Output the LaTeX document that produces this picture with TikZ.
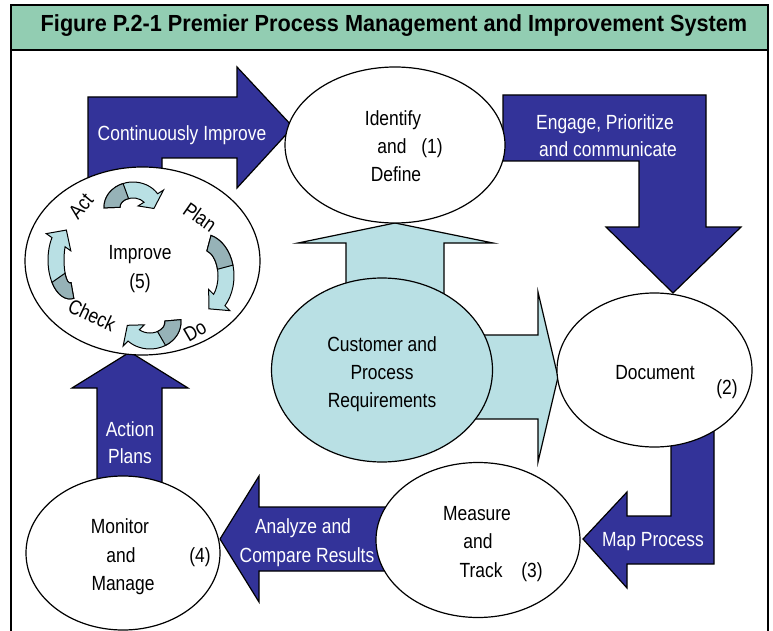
\documentclass[tikz,border=0pt]{standalone}
\usepackage{fontspec}
\setmainfont{Liberation Sans}[FakeStretch=0.85]
\newfontfamily\titlefont{Liberation Sans}[FakeStretch=0.93]
\usetikzlibrary{shapes.geometric}
\definecolor{navy}{RGB}{51,51,153}
\definecolor{lblue}{RGB}{185,224,228}
\definecolor{dteal}{RGB}{150,178,183}
\definecolor{tgreen}{RGB}{146,205,178}
\tikzset{
  border/.style={draw=black, line width=1.2pt, line join=miter},
  bluearrow/.style={border, fill=navy},
  lightarrow/.style={border, fill=lblue},
  bubble/.style={ellipse, border, fill=white, inner sep=0pt},
  lbl/.style={font=\fontsize{20.5}{24}\selectfont, anchor=base, inner sep=0pt},
  wlbl/.style={lbl, text=white},
  rlbl/.style={font=\fontsize{20.5}{24}\selectfont, anchor=center, inner sep=0pt},
}
% #1,#2 centre; #3,#4 radii; #5 start; #6 colour switch; #7 head base; #8 tip
\newcommand{\pdcaarrow}[8]{%
  \begin{scope}[shift={(#1,#2)}]
    \draw[border, line width=1pt, fill=lblue] (#5:#3+8 and #4+8)
      arc[start angle=#5, end angle=#7, x radius=#3+8, y radius=#4+8]
      -- (#7:#3+15 and #4+15) -- (#8:#3 and #4) -- (#7:#3-15 and #4-15)
      -- (#7:#3-8 and #4-8)
      arc[start angle=#7, end angle=#5, x radius=#3-8, y radius=#4-8] -- cycle;
    \draw[border, line width=1pt, fill=dteal] (#5:#3+8 and #4+8)
      arc[start angle=#5, end angle=#6, x radius=#3+8, y radius=#4+8]
      -- (#6:#3-8 and #4-8)
      arc[start angle=#6, end angle=#5, x radius=#3-8, y radius=#4-8] -- cycle;
  \end{scope}}
\begin{document}
\begin{tikzpicture}[yscale=-1, x=1pt, y=1pt]
\useasboundingbox (0,0) rectangle (773,631);
\fill[white] (0,0) rectangle (773,631);

% title and frame
\draw[border, fill=tgreen] (11,5) rectangle (768,50);
\node[font=\titlefont\fontsize{23.3}{28}\selectfont\bfseries, anchor=base, inner sep=0pt] (title) at (394,32) {Figure P.2-1 Premier Process Management and Improvement System};
\draw[border] (11,50) -- (11,640);
\draw[border] (768,50) -- (768,640);

% light blue arrows from customer requirements
\draw[lightarrow] (346,320) -- (346,243) -- (298,243) -- (395,223) -- (493,243) -- (444,243) -- (444,320) -- cycle;
\draw[lightarrow] (440,335) -- (538,335) -- (538,292) -- (558,377) -- (538,462) -- (538,419) -- (440,419) -- cycle;

% dark blue process arrows
\draw[bluearrow] (88,200) -- (88,97) -- (237,97) -- (237,67) -- (293,127) -- (237,188) -- (237,158) -- (162,158) -- (162,200) -- cycle;
\draw[bluearrow] (503,95) -- (706,95) -- (706,227) -- (741,227) -- (673,293) -- (606,227) -- (639,227) -- (639,161) -- (503,161) -- cycle;
\draw[bluearrow] (671,420) -- (714,420) -- (714,564) -- (627,564) -- (627,588) -- (583,539) -- (627,492) -- (627,516) -- (671,516) -- cycle;
\draw[bluearrow] (400,507) -- (259,507) -- (259,476) -- (220,539) -- (259,602) -- (259,571) -- (400,571) -- cycle;
\draw[bluearrow] (97,500) -- (97,388) -- (72,388) -- (130,352) -- (188,388) -- (162,388) -- (162,500) -- cycle;

% ellipses
\node[bubble, minimum width=220pt, minimum height=156pt] (identify) at (395,145) {};
\node[bubble, fill=lblue, minimum width=221pt, minimum height=184pt] (customer) at (382,370) {};
\node[bubble, minimum width=195pt, minimum height=154pt] (document) at (654.5,370) {};
\node[bubble, minimum width=204pt, minimum height=155pt] (measure) at (478,540) {};
\node[bubble, minimum width=194pt, minimum height=154pt] (monitor) at (123,553) {};
\node[bubble, minimum width=235pt, minimum height=188pt] (improve) at (142.5,261) {};

% PDCA cycle
\pdcaarrow{133}{207}{21}{17}{178}{250}{328}{365}
\pdcaarrow{203}{276}{23}{34}{285}{345}{405}{435}
\pdcaarrow{150}{322}{23}{19}{-5}{60}{135}{170}
\pdcaarrow{70}{260}{14}{31}{80}{145}{215}{255}

% ellipse texts
\node[lbl] (t1a) at (393,126) {Identify};
\node[lbl] (t1b) at (392,154) {and};
\node[lbl] (t1c) at (432,154) {(1)};
\node[lbl] (t1d) at (396,182) {Define};

\node[lbl] (tca) at (382,351) {Customer and};
\node[lbl] (tcb) at (382,379) {Process};
\node[lbl] (tcc) at (382,407) {Requirements};

\node[lbl] (t2a) at (655,379) {Document};
\node[lbl] (t2b) at (727,394) {(2)};

\node[lbl] (t3a) at (477,520) {Measure};
\node[lbl] (t3b) at (478,548) {and};
\node[lbl] (t3c) at (481,577) {Track};
\node[lbl] (t3d) at (532,577) {(3)};

\node[lbl] (t4a) at (120,533) {Monitor};
\node[lbl] (t4b) at (121,562) {and};
\node[lbl] (t4c) at (123,590) {Manage};
\node[lbl] (t4d) at (200,562) {(4)};

\node[lbl] (t5a) at (140,259) {Improve};
\node[lbl] (t5b) at (140,288) {(5)};

\node[rlbl, rotate=50] (act) at (81,206) {Act};
\node[rlbl, rotate=-35] (plan) at (200,217) {Plan};
\node[rlbl, rotate=-25] (check) at (92,315) {Check};
\node[rlbl, rotate=30] (do) at (195,331) {Do};

% arrow labels
\node[wlbl] (lci) at (182,141) {Continuously Improve};
\node[wlbl] (lepa) at (605,130) {Engage, Prioritize};
\node[wlbl] (lepb) at (608,157) {and communicate};
\node[wlbl] (lmp) at (653,546) {Map Process};
\node[wlbl] (laa) at (303,533) {Analyze and};
\node[wlbl] (lab) at (307,562) {Compare Results};
\node[wlbl] (lapa) at (130,436) {Action};
\node[wlbl] (lapb) at (130,463) {Plans};
\end{tikzpicture}
\end{document}
